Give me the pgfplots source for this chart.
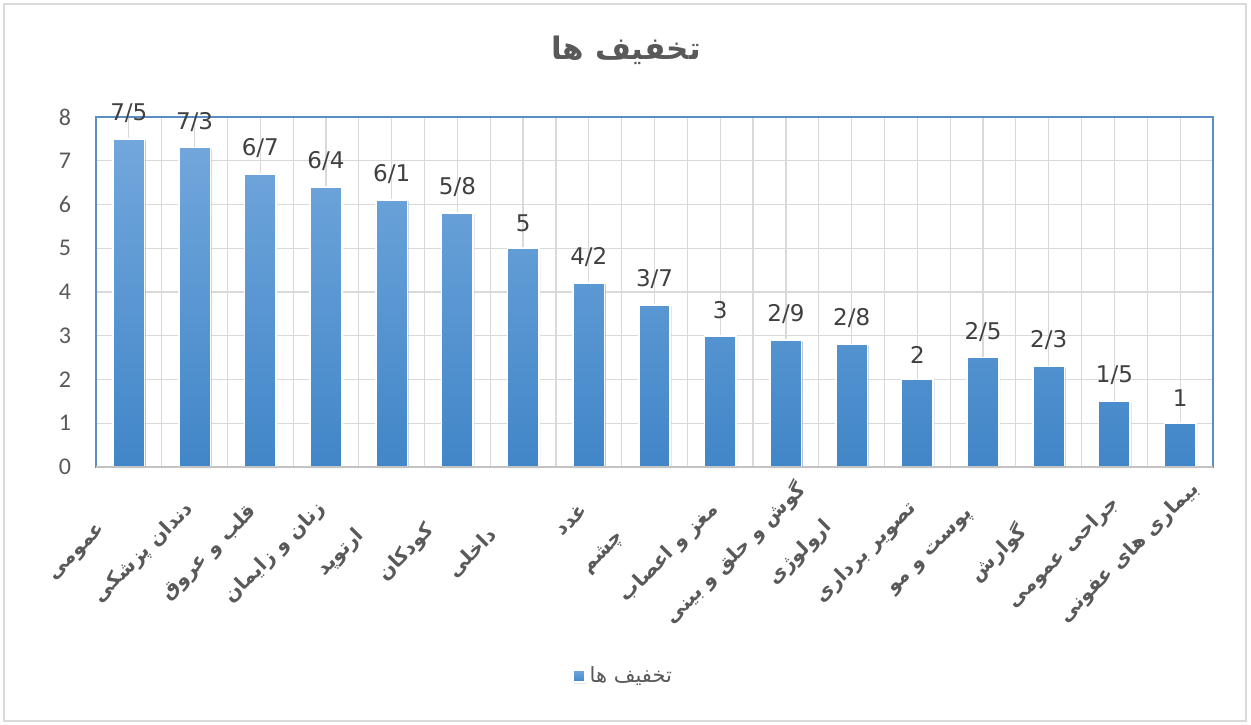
\documentclass[border=0pt]{standalone}
\usepackage{pgfplots}
\pgfplotsset{compat=1.18}
\usepackage{pgfplotstable}
\usepackage{fontspec}
\setmainfont{Carlito}
\TeXXeTstate=1
\newfontfamily\arabicfont[Script=Arabic]{DejaVu Sans}
\newfontfamily\numfont{DejaVu Sans}
\usetikzlibrary{shadows}
\definecolor{txt}{HTML}{595959}
\definecolor{lbl}{HTML}{404040}
\definecolor{barTop}{HTML}{72A7DC}
\definecolor{barBot}{HTML}{4186C8}
\definecolor{frameBlue}{HTML}{5B8FC4}
\definecolor{gridc}{HTML}{D9D9D9}

\pgfplotstableread{
x y lab
0 7.5 7/5
1 7.3 7/3
2 6.7 6/7
3 6.4 6/4
4 6.1 6/1
5 5.8 5/8
6 5 5
7 4.2 4/2
8 3.7 3/7
9 3 3
10 2.9 2/9
11 2.8 2/8
12 2 2
13 2.5 2/5
14 2.3 2/3
15 1.5 1/5
16 1 1
}\datatable

\begin{document}
\begin{tikzpicture}
\useasboundingbox (0,0) rectangle (625.5pt,362pt);
\draw[gridc, line width=0.8pt] (2pt,1.5pt) rectangle (623pt,360pt);
\begin{axis}[
  at={(48pt,128.5pt)}, anchor=south west,
  scale only axis, width=558.5pt, height=175pt,
  xmin=-0.5, xmax=16.5, ymin=0, ymax=8,
  ytick={0,1,2,3,4,5,6,7,8},
  xtick={0,1,...,16},
  minor xtick={-0.5,0.5,1.5,2.5,3.5,4.5,5.5,6.5,7.5,8.5,9.5,10.5,11.5,12.5,13.5,14.5,15.5,16.5},
  grid=both,
  major grid style={gridc, line width=0.6pt},
  minor grid style={gridc, line width=0.6pt},
  major tick length=0pt, minor tick length=0pt,
  axis line style={frameBlue, line width=0.8pt},
  clip=false,
  /pgf/number format/assume math mode=true,
  yticklabel style={font=\fontsize{12}{14}\selectfont, text=txt, xshift=-9pt},
  xticklabels={
    {\beginR عمومی\endR},
    {\beginR دندان پزشکی\endR},
    {\beginR قلب و عروق\endR},
    {\beginR زنان و زایمان\endR},
    {\beginR ارتوپد\endR},
    {\beginR کودکان\endR},
    {\beginR داخلی\endR},
    {\hspace*{47pt}\beginR غدد\endR},
    {\beginR چشم\endR},
    {\beginR مغز و اعصاب\endR},
    {\beginR گوش و حلق و بینی\endR},
    {\beginR ارولوژی\endR},
    {\beginR تصویر برداری\endR},
    {\beginR پوست و مو\endR},
    {\beginR گوارش\endR},
    {\beginR جراحی عمومی\endR},
    {\beginR بیماری های عفونی\endR}},
  xticklabel style={font=\arabicfont\bfseries\fontsize{10}{12}\selectfont, text=txt, xshift=-25.5pt, yshift=-43pt, rotate=45, anchor=center},
  legend style={at={(0.4727,-0.597)}, anchor=center, draw=none, fill=none, font=\arabicfont\fontsize{10.5}{12}\selectfont, text=txt},
  legend image code/.code={\fill[top color=barTop, bottom color=barBot] (0pt,-3pt) rectangle (6pt,3pt);},
  after end axis/.code={\draw[gridc!90!black, line width=1.2pt] (rel axis cs:0,0) -- (rel axis cs:1,0);},
]
\addplot[ybar, bar width=0.48, draw=white, line width=0.8pt,
  top color=barTop, bottom color=barBot,
  drop shadow={shadow xshift=0.6pt, shadow yshift=-0.6pt, opacity=0.25, fill=black},
  nodes near coords, point meta=explicit symbolic,
  every node near coord/.append style={font=\numfont\fontsize{11.5}{13}\selectfont, text=lbl, yshift=4.5pt}]
  table[x=x, y=y, meta=lab] {\datatable};
\addlegendentry{\beginR تخفیف ها\endR}
\end{axis}
\node[font=\arabicfont\bfseries\fontsize{15.5}{18}\selectfont, text=txt] at (313pt,337pt) {\beginR تخفیف ها\endR};
\end{tikzpicture}
\end{document}
